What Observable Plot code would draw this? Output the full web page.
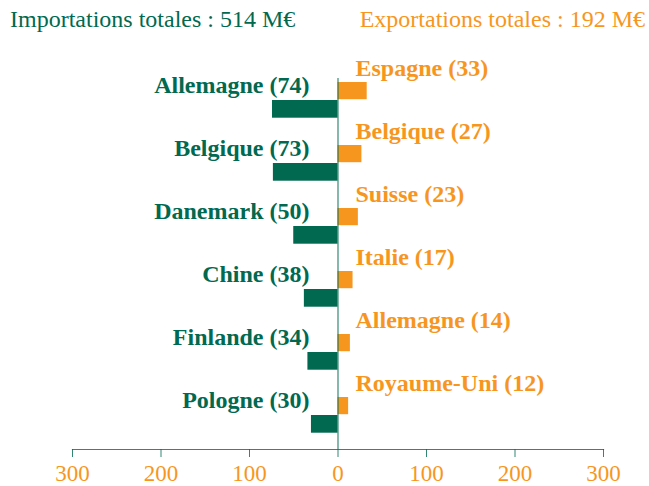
<!DOCTYPE html>
<html>
<head>
<meta charset="utf-8">
<script src="https://cdn.jsdelivr.net/npm/d3@7"></script>
<script src="https://cdn.jsdelivr.net/npm/@observablehq/plot@0.6"></script>
<style>
  html, body { margin: 0; padding: 0; background: #fff; }
  #wrap { width: 649px; height: 486px; position: relative; font-family: "Liberation Serif", "Times New Roman", serif; }
  #titles { position: relative; height: 40px; }
  #titles span { position: absolute; top: 5px; font-size: 24px; line-height: 28px; white-space: nowrap; }
  #tImp { left: 10px; color: #00694f; }
  #tExp { right: 4px; color: #f7961e; }
  svg { display: block; }
</style>
</head>
<body>
<div id="wrap">
  <div id="titles"><span id="tImp"></span><span id="tExp"></span></div>
  <div id="chart"></div>
</div>
<script>
const importCountries = ["Allemagne", "Belgique", "Danemark", "Chine", "Finlande", "Pologne"];
const importValues = [74, 73, 50, 38, 34, 30];
const exportCountries = ["Espagne", "Belgique", "Suisse", "Italie", "Allemagne", "Royaume-Uni"];
const exportValues = [33, 27, 23, 17, 14, 12];
const totalImports = 514;
const totalExports = 192;
const tickValues = [-300, -200, -100, 0, 100, 200, 300];

const green = "#00694f";
const orange = "#f7961e";

document.getElementById("tImp").textContent = `Importations totales : ${totalImports} M€`;
document.getElementById("tExp").textContent = `Exportations totales : ${totalExports} M€`;

const rows = importCountries.map((c, i) => ({
  row: i,
  imp: importValues[i],
  impName: c,
  exp: exportValues[i],
  expName: exportCountries[i]
}));

const chart = Plot.plot({
  width: 649,
  height: 446,
  marginTop: 26,
  marginBottom: 37,
  marginLeft: 72,
  marginRight: 46,
  style: { fontFamily: "'Liberation Serif', 'Times New Roman', serif", background: "#fff" },
  x: { domain: [-300, 300] },
  y: { type: "band", domain: d3.range(importCountries.length), padding: 0, axis: null },
  marks: [
    Plot.barX(rows, { y: "row", x1: 0, x2: "exp", fill: orange, insetTop: 13, insetBottom: 32.8 }),
    Plot.barX(rows, { y: "row", x1: 0, x2: d => -d.imp, fill: green, insetTop: 31, insetBottom: 14.3 }),
    Plot.ruleX([0], { stroke: green, strokeWidth: 1.2, strokeOpacity: 0.8, insetTop: 12 }),
    Plot.frame({ anchor: "bottom", stroke: green, strokeWidth: 1.2, strokeOpacity: 0.8 }),
    Plot.axisX({
      ticks: tickValues,
      tickFormat: d => Math.abs(d),
      tickSize: 8,
      tickPadding: 7,
      stroke: green,
      strokeOpacity: 0.8,
      fill: orange,
      fontSize: 23,
      label: null
    }),
    Plot.text(rows, {
      x: 0, y: "row", text: d => `${d.impName} (${d.imp})`,
      textAnchor: "end", dx: -28.5, dy: -15.5,
      fill: green, fontSize: 24, fontWeight: "bold"
    }),
    Plot.text(rows, {
      x: 0, y: "row", text: d => `${d.expName} (${d.exp})`,
      textAnchor: "start", dx: 17.5, dy: -33,
      fill: orange, fontSize: 24, fontWeight: "bold"
    })
  ]
});
document.getElementById("chart").appendChild(chart);
</script>
</body>
</html>
